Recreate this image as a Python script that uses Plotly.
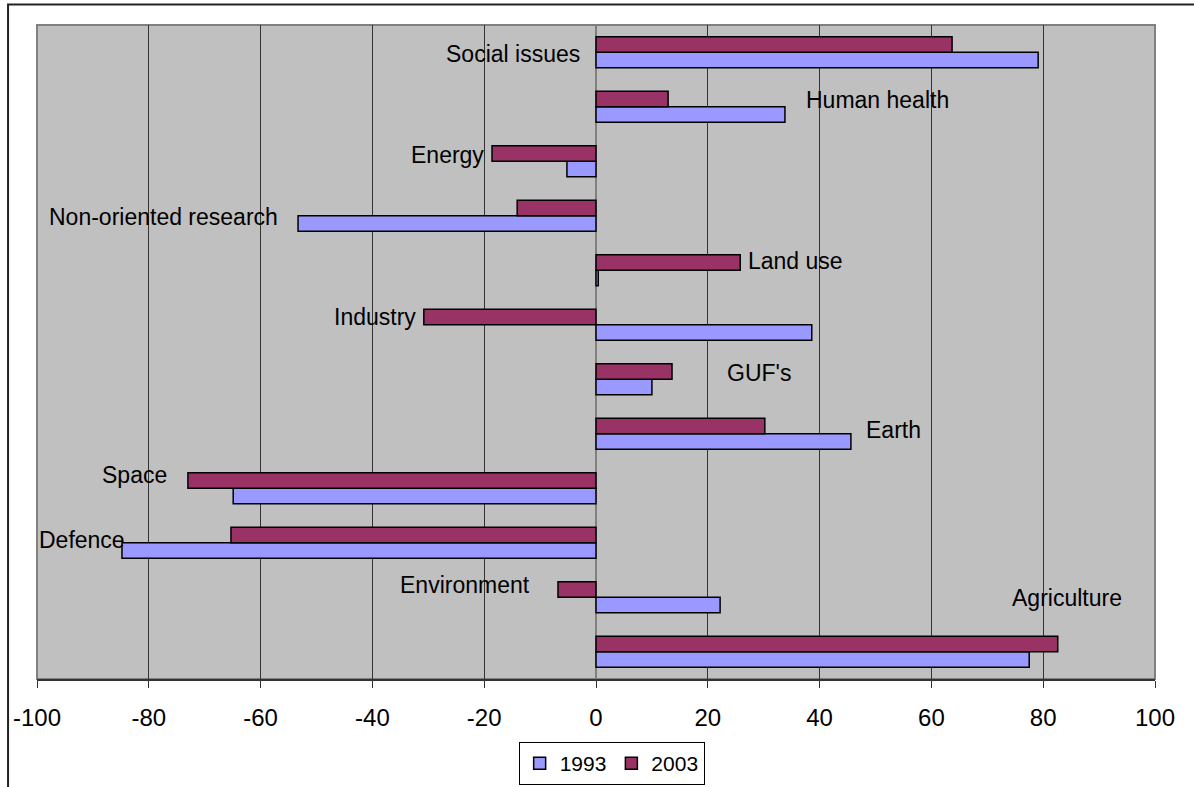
import plotly.graph_objects as go

# Fields of research, listed bottom to top
categories = [
    "Agriculture", "Environment", "Defence", "Space", "Earth", "GUF's",
    "Industry", "Land use", "Non-oriented research", "Energy",
    "Human health", "Social issues",
]
values_1993 = [77.5, 22.2, -84.8, -64.9, 45.6, 10.0, 38.6, 0.4, -53.3, -5.2, 33.8, 79.1]
values_2003 = [82.6, -6.8, -65.3, -73.0, 30.2, 13.6, -30.8, 25.8, -14.1, -18.6, 12.9, 63.7]
x_ticks = [-100, -80, -60, -40, -20, 0, 20, 40, 60, 80, 100]

# Where each category name is written (x in data units, y as category index)
label_x = [84.3, -23.5, -91.9, -82.6, 53.3, 29.2, -39.6, 35.6, -77.3, -26.6, 50.4, -14.85]
label_y = [0.99, 1.22, 2.05, 3.24, 4.07, 5.11, 6.14, 7.17, 7.98, 9.11, 10.12, 10.97]

FONT = "Liberation Sans, Arial, sans-serif"

fig = go.Figure()
fig.add_trace(go.Bar(
    y=categories, x=values_1993, orientation="h", name="1993",
    marker=dict(color="#9999FF", line=dict(color="black", width=1.5)),
))
fig.add_trace(go.Bar(
    y=categories, x=values_2003, orientation="h", name="2003",
    marker=dict(color="#993366", line=dict(color="black", width=1.5)),
))

for name, lx, ly in zip(categories, label_x, label_y):
    fig.add_annotation(
        x=lx, y=ly, xref="x", yref="y", text=name, showarrow=False,
        xanchor="center", yanchor="middle",
        font=dict(family=FONT, size=23, color="black"),
    )

# Plot-area frame
fig.add_shape(type="rect", xref="paper", yref="paper", x0=0, x1=1, y0=0, y1=1,
              line=dict(color="#808080", width=2), layer="below")
# Outer chart border
fig.add_shape(type="rect", xref="paper", yref="paper",
              x0=-0.0259, x1=1.2, y0=-0.4, y1=1.0313,
              line=dict(color="#222222", width=2), layer="below")

fig.update_layout(
    width=1194, height=787,
    margin=dict(l=37, r=39, t=25, b=108, autoexpand=False),
    paper_bgcolor="white", plot_bgcolor="#C0C0C0",
    barmode="group", bargap=0.43, bargroupgap=0,
    font=dict(family=FONT, size=24, color="black"),
    showlegend=True,
    legend=dict(
        orientation="h", x=0.514, xanchor="center",
        yref="container", y=0.0572, yanchor="top",
        bordercolor="black", borderwidth=1, bgcolor="white",
        font=dict(family=FONT, size=21, color="black"),
        traceorder="normal", itemwidth=30,
    ),
    xaxis=dict(
        range=[-100, 100], tickvals=x_ticks, ticktext=[str(t) for t in x_ticks],
        showgrid=True, gridcolor="#333333", gridwidth=1,
        zeroline=True, zerolinecolor="#808080", zerolinewidth=2,
        showline=True, linecolor="#333333", linewidth=1.5,
        ticks="outside", ticklen=7, tickcolor="#333333", tickwidth=1,
        ticklabelstandoff=9,
        tickfont=dict(family=FONT, size=24, color="black"),
    ),
    yaxis=dict(
        type="category", categoryorder="array", categoryarray=categories,
        range=[-0.5, 11.5], showticklabels=False, showgrid=False,
        zeroline=False, showline=False, ticks="",
    ),
)

fig.write_html("out.html")
